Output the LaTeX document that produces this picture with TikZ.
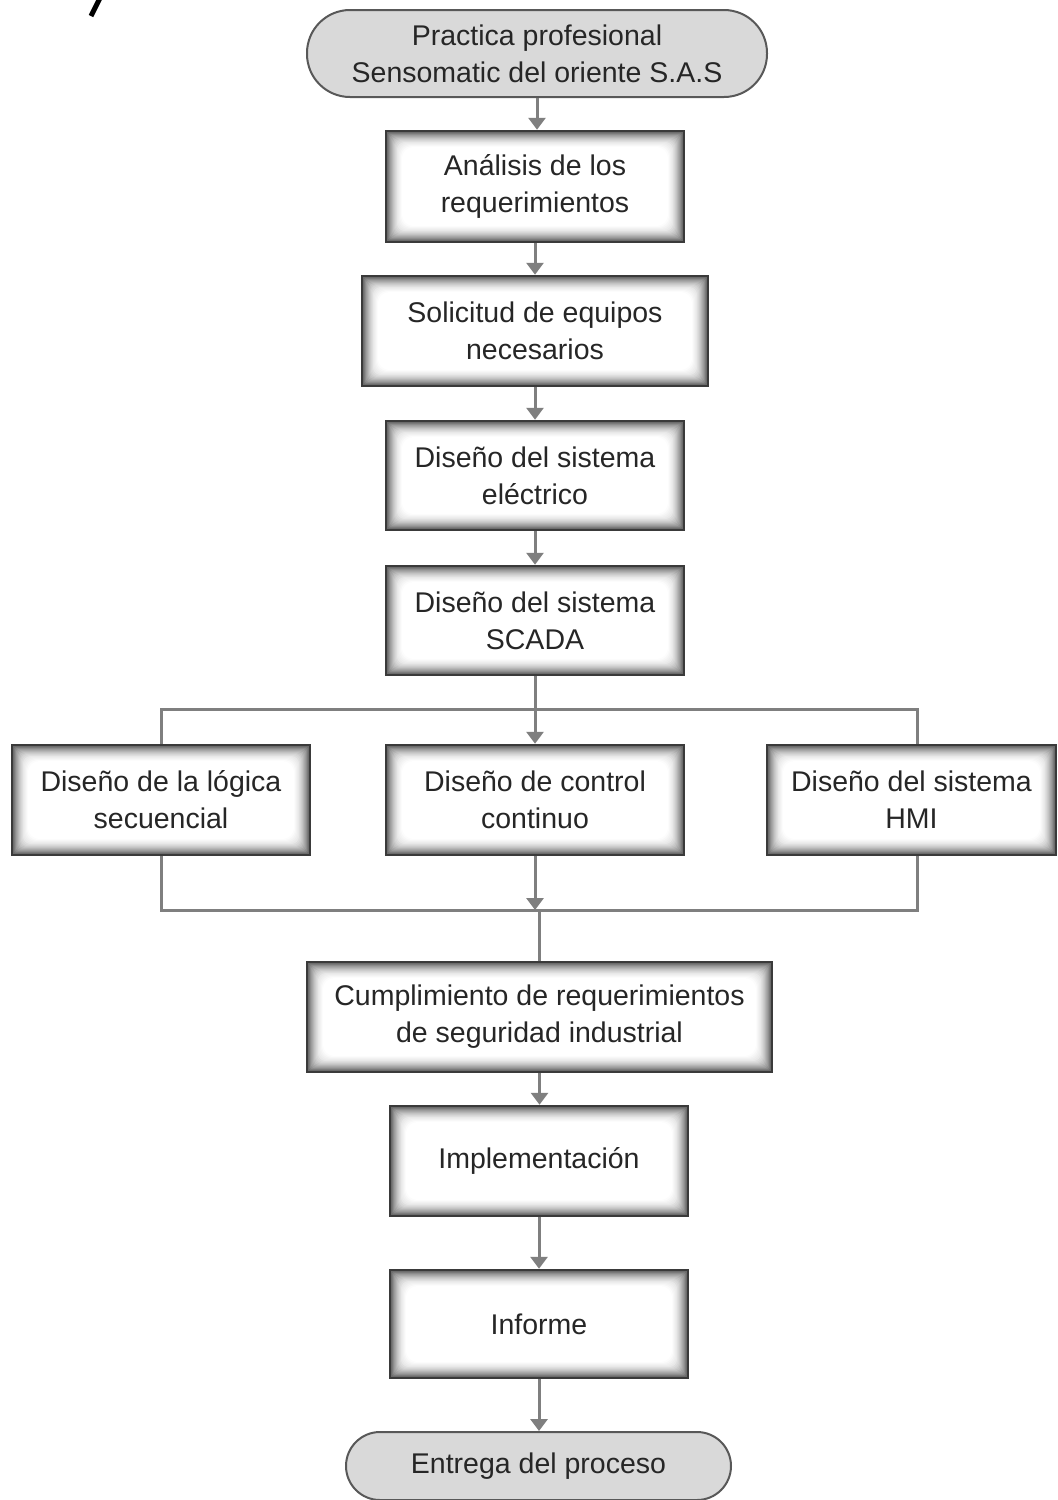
\documentclass[tikz,border=0pt]{standalone}
\usepackage{fontspec}
\setmainfont{Liberation Sans}
\usetikzlibrary{arrows.meta}
\definecolor{linegray}{HTML}{7F7F7F}
\definecolor{boxborder}{HTML}{3A3A3A}
\definecolor{termfill}{HTML}{D9D9D9}
\definecolor{txt}{HTML}{262626}
\begin{document}
\begin{tikzpicture}[x=1pt,y=-1pt,
  stepbox/.style={rectangle, draw=boxborder, line width=2.5pt, inner sep=0pt,
    align=center, text=txt, font=\fontsize{28.5}{37}\selectfont,
    path picture={
      \fill[white] (path picture bounding box.north west) rectangle (path picture bounding box.south east);
      \foreach \i [evaluate=\i as \c using {int(66*(1-\i/18)^2)}] in {0,...,17}{
        \fill[black!\c!white, rounded corners=\i*0.7pt]
          ([shift={(\i*1pt,-\i*1pt)}]path picture bounding box.north west) rectangle
          ([shift={(-\i*1pt,\i*1pt)}]path picture bounding box.south east);
      }
    }},
  termbox/.style={rectangle, draw=boxborder!85, line width=2pt, fill=termfill,
    inner sep=0pt, align=center, text=txt, font=\fontsize{28.5}{37}\selectfont},
  ln/.style={draw=linegray, line width=3pt},
  arr/.style={draw=linegray, line width=3pt, -{Triangle[width=17pt,length=12pt]}}
]
\useasboundingbox (0,0) rectangle (1058,1500);
\fill[white] (0,0) rectangle (1058,1500);
% fragment of cropped text at the top left
\draw[black, line width=5pt] (100,-2) -- (91,16);

\node[termbox, minimum width=460pt, minimum height=87pt, rounded corners=43pt] (t1) at (537,53.5)
  {Practica profesional\\Sensomatic del oriente S.A.S};
\node[stepbox, minimum width=298pt, minimum height=111pt] (b1) at (535,186.5)
  {Análisis de los\\requerimientos};
\node[stepbox, minimum width=346pt, minimum height=110pt] (b2) at (535,331)
  {Solicitud de equipos\\necesarios};
\node[stepbox, minimum width=298pt, minimum height=109pt] (b3) at (535,475.5)
  {Diseño del sistema\\eléctrico};
\node[stepbox, minimum width=298pt, minimum height=109pt] (b4) at (535,620.5)
  {Diseño del sistema\\SCADA};
\node[stepbox, minimum width=298pt, minimum height=110pt] (bl) at (161,800)
  {Diseño de la lógica\\secuencial};
\node[stepbox, minimum width=298pt, minimum height=110pt] (bc) at (535,800)
  {Diseño de control\\continuo};
\node[stepbox, minimum width=289pt, minimum height=110pt] (br) at (911.5,800)
  {Diseño del sistema\\HMI};
\node[stepbox, minimum width=465pt, minimum height=110pt] (b6) at (539.5,1017)
  {Cumplimiento de requerimientos\\de seguridad industrial};
\node[stepbox, minimum width=298pt, minimum height=110pt] (b7) at (539,1161)
  {Implementación};
\node[stepbox, minimum width=298pt, minimum height=108pt] (b8) at (539,1324)
  {Informe};
\node[termbox, minimum width=385pt, minimum height=68pt, rounded corners=34pt] (t2) at (538.5,1466)
  {Entrega del proceso};

\coordinate (jT) at (537,709);
\coordinate (jB) at (537,910);

\draw[arr] (t1.south) -- (t1.south |- b1.north);
\draw[arr] (b1.south) -- (b1.south |- b2.north);
\draw[arr] (b2.south) -- (b2.south |- b3.north);
\draw[arr] (b3.south) -- (b3.south |- b4.north);
\draw[ln] (bl.north) |- (jT) -| ([xshift=5.5pt]br.north);
\draw[arr] (b4.south) -- (bc.north);
\draw[ln] (bl.south) |- (jB) -| ([xshift=5.5pt]br.south);
\draw[arr] (bc.south) -- (bc.south |- jB);
\draw[ln] (jB -| b6.north) -- (b6.north);
\draw[arr] (b6.south) -- (b6.south |- b7.north);
\draw[arr] (b7.south) -- (b8.north);
\draw[arr] (b8.south) -- (b8.south |- t2.north);
\end{tikzpicture}
\end{document}
